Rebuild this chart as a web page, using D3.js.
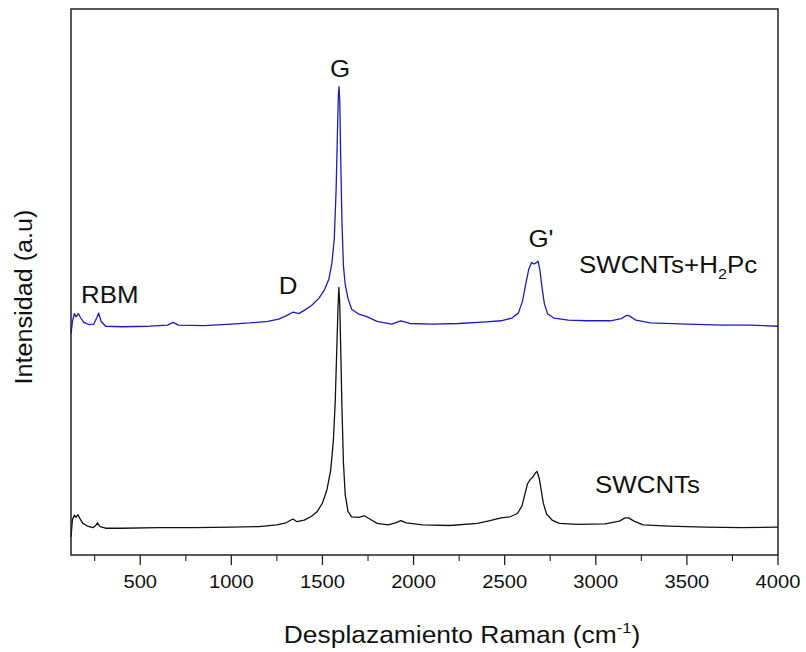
<!DOCTYPE html>
<html>
<head>
  <meta charset="utf-8">
  <title>Raman</title>
  <style type="text/css">
    body { margin: 0; background-color: #fff; }
    svg { display: block; font-family: "Liberation Sans", Arial, sans-serif; }
  </style>
  <script src="https://d3js.org/d3.v7.min.js"></script>
</head>
<body>
<script>
// Raman spectra: [shift cm-1, intensity a.u.]
var swcnts = [
  [120,3.3],[128,6.5],[138,7.3],[148,6.9],[158,7.4],[170,6.6],[185,5.8],[210,5.3],[240,5.0],[255,5.4],
  [265,5.9],[280,5.2],[310,4.9],[400,4.9],[600,5.0],[800,5.0],[1000,5.1],[1150,5.2],[1250,5.5],[1300,5.9],
  [1338,6.6],[1360,6.1],[1400,6.4],[1440,7.1],[1470,7.9],[1500,9.5],[1525,12],[1545,15.5],[1560,21],[1570,28],
  [1578,37],[1585,45],[1590,49],[1595,46],[1600,38],[1607,27],[1615,17],[1625,11],[1640,8],[1660,7.0],
  [1700,6.9],[1730,7.2],[1760,6.6],[1800,5.8],[1860,5.5],[1900,5.9],[1930,6.3],[1960,5.9],[2050,5.5],[2200,5.4],
  [2350,5.8],[2420,6.3],[2480,6.8],[2530,7.0],[2570,7.6],[2595,9],[2610,11],[2625,13],[2640,13.8],[2655,14.3],
  [2668,15],[2678,15.3],[2690,14],[2700,12],[2712,9.5],[2730,7.5],[2760,6.4],[2800,5.8],[2900,5.6],[3050,5.7],
  [3130,6.2],[3160,6.8],[3180,6.8],[3210,6.2],[3260,5.5],[3400,5.3],[3600,5.1],[3800,5.0],[4000,5.1]
];

var swcntsH2Pc = [
  [120,40.5],[128,42.8],[138,44.2],[148,43.6],[160,44.2],[172,43.5],[190,42.6],[220,42.2],[245,42.3],[262,43.5],
  [272,44.3],[285,42.8],[310,41.9],[400,41.8],[550,41.9],[650,42.1],[680,42.6],[710,42.1],[850,42.0],[1000,42.3],
  [1100,42.5],[1200,42.8],[1260,43.2],[1300,43.8],[1340,44.5],[1370,44.2],[1400,44.8],[1440,45.7],[1480,47.0],[1510,48.5],
  [1535,50.5],[1552,53.5],[1565,58],[1575,67],[1582,77],[1587,84],[1591,85.8],[1595,83],[1600,73],[1607,61],
  [1615,53],[1625,49.5],[1640,47],[1660,45],[1700,44.1],[1740,43.7],[1800,42.8],[1880,42.3],[1930,42.9],[1980,42.4],
  [2100,42.3],[2250,42.4],[2400,42.7],[2480,42.9],[2540,43.4],[2575,44.3],[2598,46.5],[2615,49.5],[2632,52.3],[2648,53.6],
  [2660,53.3],[2672,53.5],[2684,53.8],[2694,52],[2705,49],[2718,46],[2735,44.2],[2770,43.4],[2850,43.0],[2950,42.9],
  [3080,42.9],[3140,43.3],[3170,43.9],[3185,43.8],[3220,43.0],[3300,42.5],[3500,42.3],[3700,42.1],[3850,42.1],[4000,41.9]
];

var majorTicks = [500, 1000, 1500, 2000, 2500, 3000, 3500, 4000];
var minorTicks = [250, 750, 1250, 1750, 2250, 2750, 3250, 3750];

var W = 806, H = 652;
var box = {left: 71, right: 778, top: 9, bottom: 555};

var svg = d3.select("body").append("svg")
  .attr("width", W)
  .attr("height", H);

var x = d3.scaleLinear().domain([120, 4000]).range([box.left, box.right]);
var y = d3.scaleLinear().domain([0, 100]).range([box.bottom, box.top]);

var line = d3.line()
  .x(function(d) { return x(d[0]); })
  .y(function(d) { return y(d[1]); });

// spectra
svg.append("path").datum(swcnts)
  .attr("d", line)
  .attr("fill", "none")
  .attr("stroke", "#111")
  .attr("stroke-width", 1.3)
  .attr("stroke-linejoin", "round");

svg.append("path").datum(swcntsH2Pc)
  .attr("d", line)
  .attr("fill", "none")
  .attr("stroke", "#1c1cc0")
  .attr("stroke-width", 1.3)
  .attr("stroke-linejoin", "round");

// frame
svg.append("rect")
  .attr("x", box.left).attr("y", box.top)
  .attr("width", box.right - box.left)
  .attr("height", box.bottom - box.top)
  .attr("fill", "none")
  .attr("stroke", "#222")
  .attr("stroke-width", 1.5);

// bottom axis ticks (outward)
var ax = svg.append("g");
ax.selectAll("line.major").data(majorTicks).enter().append("line")
  .attr("x1", function(d) { return x(d); })
  .attr("x2", function(d) { return x(d); })
  .attr("y1", box.bottom).attr("y2", box.bottom + 10)
  .attr("stroke", "#222").attr("stroke-width", 1.3);
ax.selectAll("line.minor").data(minorTicks).enter().append("line")
  .attr("x1", function(d) { return x(d); })
  .attr("x2", function(d) { return x(d); })
  .attr("y1", box.bottom).attr("y2", box.bottom + 6)
  .attr("stroke", "#222").attr("stroke-width", 1.1);
ax.selectAll("text").data(majorTicks).enter().append("text")
  .attr("transform", function(d) { return "translate(" + x(d) + ",588) scale(1.12,1)"; })
  .attr("text-anchor", "middle")
  .attr("font-size", 18)
  .attr("fill", "#111")
  .text(function(d) { return d; });

// titles
var xt = svg.append("text")
  .attr("transform", "translate(462,643) scale(1.1,1)")
  .attr("text-anchor", "middle")
  .attr("font-size", 24)
  .attr("fill", "#111");
xt.append("tspan").text("Desplazamiento Raman (cm");
xt.append("tspan").attr("font-size", 15).attr("dy", -10).text("-1");
xt.append("tspan").attr("dy", 10).text(")");

svg.append("text")
  .attr("transform", "translate(32,297) rotate(-90) scale(1.05,1)")
  .attr("text-anchor", "middle")
  .attr("font-size", 24)
  .attr("fill", "#111")
  .text("Intensidad (a.u)");

// peak labels
function label(tx, ty, anchor, s) {
  return svg.append("text")
    .attr("transform", "translate(" + tx + "," + ty + ") scale(1.08,1)")
    .attr("text-anchor", anchor)
    .attr("font-size", 24)
    .attr("fill", "#111")
    .text(s);
}
label(340, 77, "middle", "G");
label(288, 294, "middle", "D");
label(81, 303, "start", "RBM");
label(541, 247, "middle", "G'");
label(595, 493, "start", "SWCNTs");

var lt = svg.append("text")
  .attr("transform", "translate(579,273) scale(1.08,1)")
  .attr("font-size", 24)
  .attr("fill", "#111");
lt.append("tspan").text("SWCNTs+H");
lt.append("tspan").attr("font-size", 15).attr("dy", 6).text("2");
lt.append("tspan").attr("dy", -6).text("Pc");
</script>
</body>
</html>
